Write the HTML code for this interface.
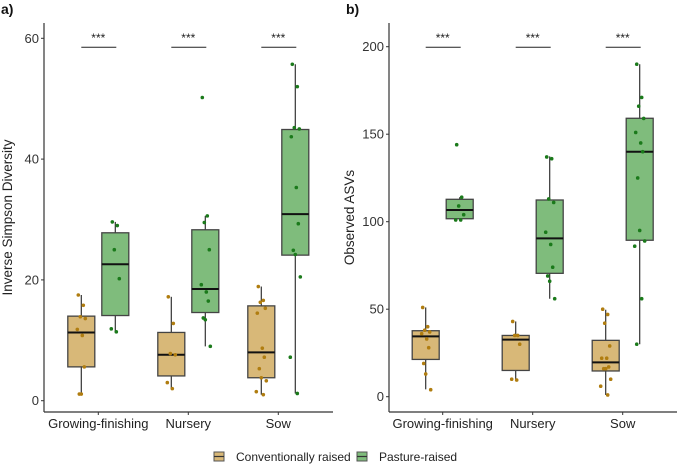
<!DOCTYPE html>
<html><head><meta charset="utf-8"><style>
body{margin:0;background:#fff;}
svg{display:block;font-family:"Liberation Sans",sans-serif;}
</style></head><body>
<svg id="chart" width="678" height="464" viewBox="0 0 678 464"></svg>
<script>
const categories = ["Growing-finishing","Nursery","Sow"];
const groups = ["Conventionally raised","Pasture-raised"];
// panel a: [whiskerLow, q1, median, q3, whiskerHigh]
const simpsonConvBox = [[1.1,5.6,11.3,14.0,17.5],[2.0,4.1,7.6,11.3,17.2],[1.0,3.8,8.0,15.7,18.9]];
const simpsonPastBox = [[11.4,14.1,22.6,27.8,29.6],[9.0,14.6,18.5,28.3,30.6],[1.2,24.1,30.9,44.9,55.7]];
const simpsonConvPts = [[17.5,15.8,13.9,13.6,11.8,10.8,5.6,1.1,1.1],[17.2,12.8,7.8,7.6,3.0,2.0],[18.9,16.6,16.3,15.3,14.5,8.7,7.2,5.3,3.8,3.3,1.5,1.0]];
const simpsonPastPts = [[29.6,29.0,25.0,20.2,11.9,11.4],[50.2,30.6,29.5,25.0,19.2,18.0,16.5,13.7,13.4,9.0],[55.7,52.0,45.2,45.0,43.7,35.3,29.3,24.9,24.2,20.5,7.2,1.2]];
const simpsonTicks = [0,20,40,60];
// panel b
const asvConvBox = [[4.2,21.3,34.5,37.7,51],[9.5,15,32.6,35,43],[1,14.7,19.6,32.2,49.7]];
const asvPastBox = [[101,101.7,106.7,112.8,114],[56,70.5,90.5,112.4,137.3],[30,89.4,140,159.1,190]];
const asvConvPts = [[51,40,38,37,36,33,28,19,13,4],[43,35,35,30,10,9.5],[50,47,42,29,22,22,17,16,16,10,6,1]];
const asvPastPts = [[144,114,109,104,101,101],[137,136,113,111,94,87,74,69,66,56],[190,171,166,159,151,145,140,125,95,89,86,56,30]];
const asvTicks = [0,50,100,150,200];

const NS="http://www.w3.org/2000/svg";
const svg=document.getElementById('chart');
function mk(tag,attrs,parent,text){const e=document.createElementNS(NS,tag);for(const k in attrs)e.setAttribute(k,attrs[k]);if(text!==undefined)e.textContent=text;(parent||svg).appendChild(e);return e;}
const jit=[-3,2,-1,4,-4,1,3,-2,0,5,-5,2,-3];
const FILL=["#d8b878","#7fbc7c"],PT=["#b07d10","#1b7a1b"];

function panel(o){
  const g=mk('g',{});
  
  const y=v=>o.y0-(v-0)*o.k;
  const xc=i=>o.x0+i*90;
  mk('line',{x1:o.ax,y1:o.top,x2:o.ax,y2:412,stroke:'#333','stroke-width':1.2},g);
  mk('line',{x1:o.ax,y1:412,x2:o.right,y2:412,stroke:'#333','stroke-width':1.2},g);
  o.ticks.forEach(t=>{
    mk('line',{x1:o.ax-3,y1:y(t),x2:o.ax,y2:y(t),stroke:'#333'},g);
    const tx=mk('text',{x:o.ax-5,y:y(t)+4.5,'text-anchor':'end','font-size':13,fill:'#333'},g,t);
    
  });
  categories.forEach((c,i)=>{
    mk('line',{x1:xc(i),y1:412,x2:xc(i),y2:415,stroke:'#333'},g);
    const tx=mk('text',{x:xc(i),y:428,'text-anchor':'middle','font-size':13,fill:'#222'},g,c);
    
    mk('line',{x1:xc(i)-17,y1:47.3,x2:xc(i)+18,y2:47.3,stroke:'#222'},g);
    mk('text',{x:xc(i),y:42,'text-anchor':'middle','font-size':12,fill:'#222'},g,'***');
    [o.conv,o.past].forEach((B,gi)=>{
      const cx=xc(i)+(gi?17:-17);
      const bx=B[i];
      const bg=mk('g',{},g);
      
      
      mk('line',{x1:cx,y1:y(bx[0]),x2:cx,y2:y(bx[4]),stroke:'#333','stroke-width':1.2},bg);
      mk('rect',{x:cx-13.5,y:y(bx[3]),width:27,height:y(bx[1])-y(bx[3]),fill:FILL[gi],stroke:'#444','stroke-width':1.3},bg);
      mk('line',{x1:cx-13.5,y1:y(bx[2]),x2:cx+13.5,y2:y(bx[2]),stroke:'#111','stroke-width':2},bg);
      (gi?o.pastP:o.convP)[i].forEach((v,j)=>{
        const p=mk('circle',{cx:cx+jit[j%jit.length],cy:y(v),r:1.8,fill:PT[gi]},bg);
        
        
      });
    });
  });
  const t=mk('text',{transform:`translate(${o.titleX},${(o.top+412)/2}) rotate(-90)`,'text-anchor':'middle','font-size':13.5,fill:'#222'},g,o.title);
  
  const l=mk('text',{x:o.labX,y:14,'font-size':14,'font-weight':'bold',fill:'#111'},g,o.label);
  
}
panel({name:'panel-a',ax:44,right:333,top:23,y0:400.7,k:6.04,x0:98.3,ticks:simpsonTicks,conv:simpsonConvBox,past:simpsonPastBox,convP:simpsonConvPts,pastP:simpsonPastPts,title:'Inverse Simpson Diversity',titleX:12,label:'a)',labX:1});
panel({name:'panel-b',ax:389,right:677,top:23,y0:396.7,k:1.75,x0:442.7,ticks:asvTicks,conv:asvConvBox,past:asvPastBox,convP:asvConvPts,pastP:asvPastPts,title:'Observed ASVs',titleX:354,label:'b)',labX:346});

const lg=mk('g',{});
[[219,236,groups[0]],[362,379,groups[1]]].forEach((d,gi)=>{
  const e=mk('g',{},lg);
  
  
  mk('rect',{x:d[0]-5,y:452,width:10,height:9,fill:FILL[gi],stroke:'#555','stroke-width':1},e);
  mk('line',{x1:d[0]-5,y1:456.5,x2:d[0]+5,y2:456.5,stroke:'#333','stroke-width':1.2},e);
  mk('text',{x:d[1],y:461,'font-size':12,fill:'#222'},e,d[2]);
});
</script>
</body></html>
